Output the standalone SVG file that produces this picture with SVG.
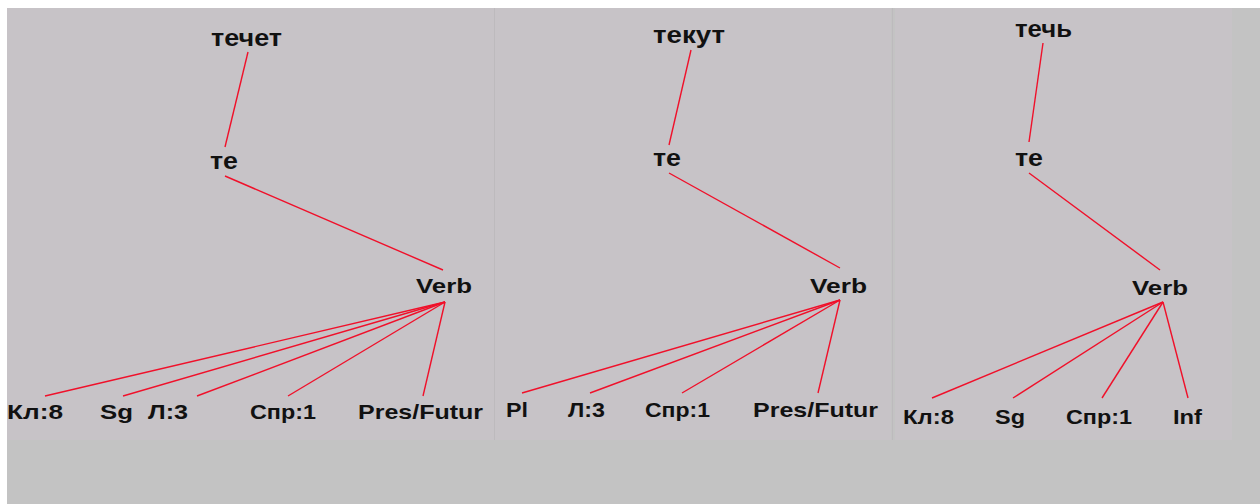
<svg xmlns="http://www.w3.org/2000/svg" width="1260" height="504" viewBox="0 0 1260 504">
<style>
.bg{fill:#c3c3c3}
.panel{fill:#c7c3c7}
.sep{stroke:#bdbabd;stroke-width:1}
.w{font-family:"Liberation Sans",Arial,sans-serif;font-weight:bold;font-size:24px;fill:#111}
.l{font-family:"Liberation Sans",Arial,sans-serif;font-weight:bold;font-size:21px;fill:#111}
.e line{stroke:#f0102a;stroke-width:1.4;fill:none}
</style>
<rect class="bg" x="0" y="0" width="1260" height="504"/>
<rect x="0" y="0" width="1260" height="8" fill="#ffffff"/>
<rect x="0" y="0" width="7" height="504" fill="#ffffff"/>
<rect class="panel" x="7" y="8" width="487" height="432"/>
<rect class="panel" x="495" y="8" width="396" height="432"/>
<rect class="panel" x="895" y="8" width="337" height="432"/>
<line class="sep" x1="494.5" y1="8" x2="494.5" y2="440"/>
<line class="sep" x1="892.5" y1="8" x2="892.5" y2="440"/>

<g id="connectors" class="e">
<line x1="248" y1="52" x2="225" y2="147"/>
<line x1="225" y1="176" x2="443" y2="270"/>
<line x1="445" y1="302" x2="45" y2="396"/>
<line x1="445" y1="302" x2="123" y2="396"/>
<line x1="445" y1="302" x2="197" y2="396"/>
<line x1="445" y1="302" x2="288" y2="396"/>
<line x1="445" y1="302" x2="423" y2="396"/>

<line x1="691" y1="50" x2="669" y2="145"/>
<line x1="669" y1="173" x2="840" y2="268"/>
<line x1="840" y1="300" x2="522" y2="393"/>
<line x1="840" y1="300" x2="590" y2="393"/>
<line x1="840" y1="300" x2="682" y2="393"/>
<line x1="840" y1="300" x2="818" y2="393"/>

<line x1="1043" y1="43" x2="1029" y2="142"/>
<line x1="1029" y1="173" x2="1160" y2="270"/>
<line x1="1163" y1="302" x2="932" y2="398"/>
<line x1="1163" y1="302" x2="1013" y2="398"/>
<line x1="1163" y1="302" x2="1102" y2="398"/>
<line x1="1163" y1="302" x2="1188" y2="398"/>
</g>

<g id="p1-techet"><text class="w" x="211" y="46" textLength="71" lengthAdjust="spacingAndGlyphs">течет</text></g>
<g id="p1-te"><text class="w" x="210" y="169" textLength="28" lengthAdjust="spacingAndGlyphs">те</text></g>
<g id="p1-verb"><text class="l" x="416" y="293" textLength="56" lengthAdjust="spacingAndGlyphs">Verb</text></g>
<g id="p1-kl8"><text class="l" x="7" y="419" textLength="56" lengthAdjust="spacingAndGlyphs">Кл:8</text></g>
<g id="p1-sg"><text class="l" x="100" y="419" textLength="33" lengthAdjust="spacingAndGlyphs">Sg</text></g>
<g id="p1-l3"><text class="l" x="148" y="419" textLength="40" lengthAdjust="spacingAndGlyphs">Л:3</text></g>
<g id="p1-spr1"><text class="l" x="250" y="419" textLength="66" lengthAdjust="spacingAndGlyphs">Спр:1</text></g>
<g id="p1-pres"><text class="l" x="358" y="419" textLength="125" lengthAdjust="spacingAndGlyphs">Pres/Futur</text></g>

<g id="p2-tekut"><text class="w" x="653" y="43" textLength="72" lengthAdjust="spacingAndGlyphs">текут</text></g>
<g id="p2-te"><text class="w" x="653" y="166" textLength="28" lengthAdjust="spacingAndGlyphs">те</text></g>
<g id="p2-verb"><text class="l" x="810" y="293" textLength="57" lengthAdjust="spacingAndGlyphs">Verb</text></g>
<g id="p2-pl"><text class="l" x="506" y="417" textLength="22" lengthAdjust="spacingAndGlyphs">Pl</text></g>
<g id="p2-l3"><text class="l" x="568" y="417" textLength="37" lengthAdjust="spacingAndGlyphs">Л:3</text></g>
<g id="p2-spr1"><text class="l" x="645" y="417" textLength="65" lengthAdjust="spacingAndGlyphs">Спр:1</text></g>
<g id="p2-pres"><text class="l" x="753" y="417" textLength="125" lengthAdjust="spacingAndGlyphs">Pres/Futur</text></g>

<g id="p3-tech"><text class="w" x="1015" y="37" textLength="57" lengthAdjust="spacingAndGlyphs">течь</text></g>
<g id="p3-te"><text class="w" x="1015" y="166" textLength="28" lengthAdjust="spacingAndGlyphs">те</text></g>
<g id="p3-verb"><text class="l" x="1132" y="295" textLength="56" lengthAdjust="spacingAndGlyphs">Verb</text></g>
<g id="p3-kl8"><text class="l" x="903" y="424" textLength="51" lengthAdjust="spacingAndGlyphs">Кл:8</text></g>
<g id="p3-sg"><text class="l" x="995" y="424" textLength="30" lengthAdjust="spacingAndGlyphs">Sg</text></g>
<g id="p3-spr1"><text class="l" x="1066" y="424" textLength="66" lengthAdjust="spacingAndGlyphs">Спр:1</text></g>
<g id="p3-inf"><text class="l" x="1173" y="424" textLength="29" lengthAdjust="spacingAndGlyphs">Inf</text></g>
</svg>
